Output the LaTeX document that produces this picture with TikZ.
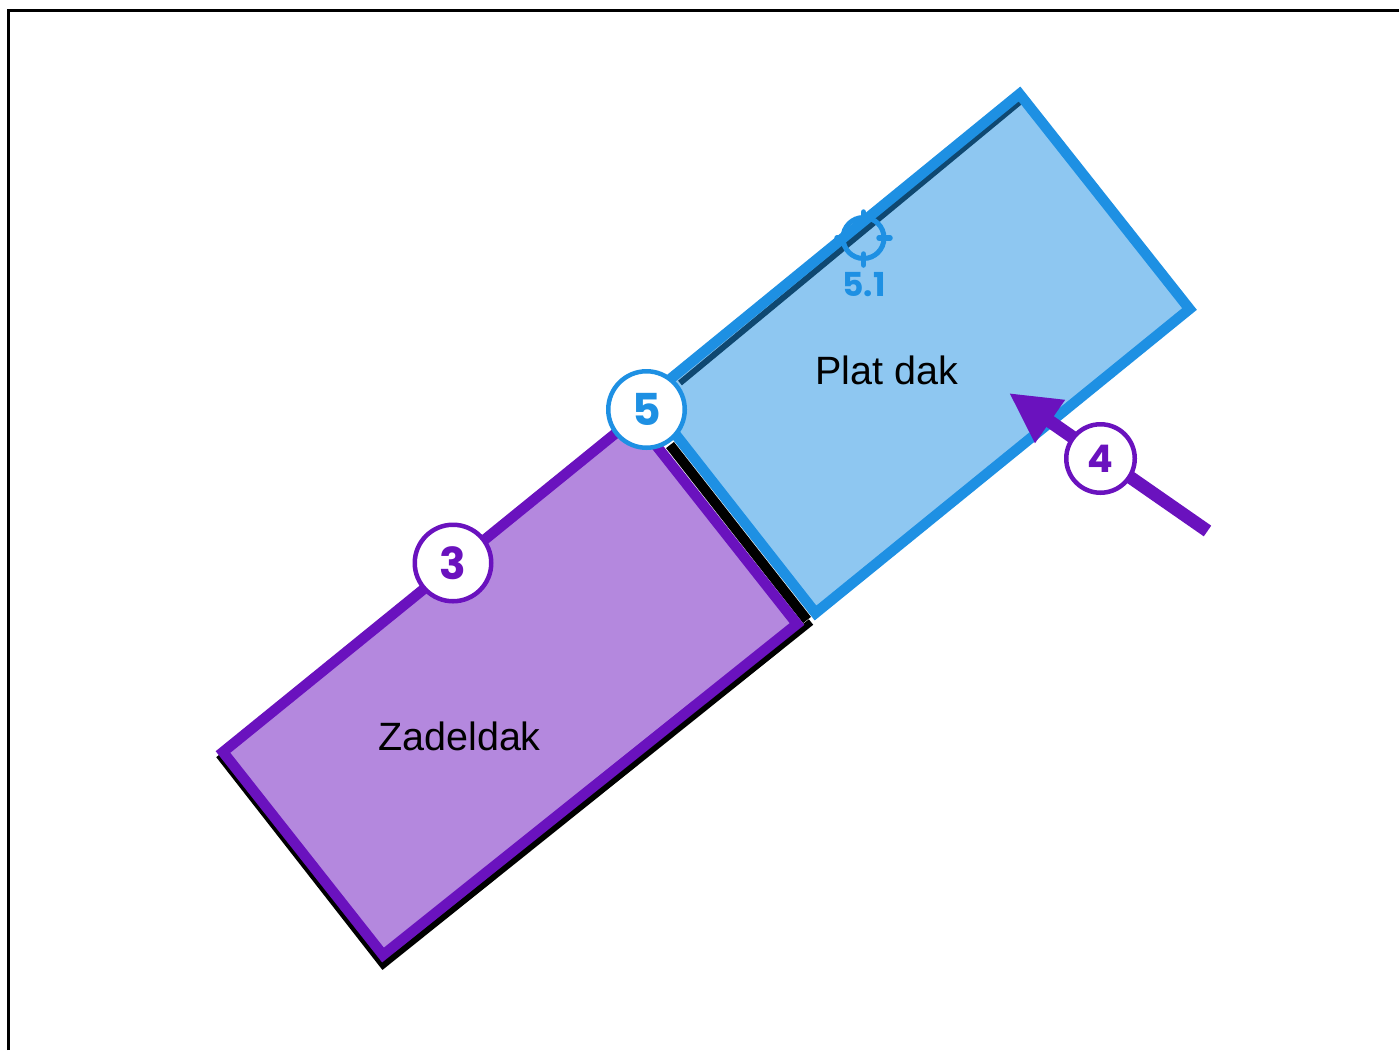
\documentclass[tikz,border=0pt]{standalone}
\usepackage{fontspec}
\setmainfont{Liberation Sans}
\newfontfamily\badgefont[Ligatures=TeX]{Poppins}
\usetikzlibrary{arrows.meta}
\definecolor{roofblue}{HTML}{1E90E3}
\definecolor{roofpurple}{HTML}{6A12BE}
\tikzset{
  x=1pt,y=-1pt,
  framepart/.style={draw=black,line width=3pt,line cap=butt,miter limit=10},
  shadowline/.style={draw=black,line width=7pt,line join=miter},
  roofzone/.style={line width=10.5pt,line join=miter,miter limit=10},
  badge/.style={circle,fill=white,draw=#1,line width=4.5pt,text=#1,minimum size=76.5pt,inner sep=0pt,font=\badgefont\bfseries\fontsize{44}{44}\selectfont},
  roofname/.style={text=black,inner sep=0pt,font=\fontsize{39.5}{40}\selectfont},
  tick/.style={draw=roofblue,line width=5.5pt,line cap=round}
}
\begin{document}
\begin{tikzpicture}
\useasboundingbox (0,0) rectangle (1399,1050);
\draw[framepart] (8.7,1050) -- (8.7,10.8) -- (1399,10.8);
% black shadow lines
\coordinate (s1) at (219,755);
\coordinate (s2) at (383,965);
\coordinate (s3) at (811,622);
\coordinate (s4) at (670,445);
\coordinate (s5) at (1021,101);
\coordinate (s6) at (680,383);
\coordinate (s7) at (807,620);
\draw[shadowline] (s1) -- (s2) -- (s3);
\draw[shadowline,line width=10pt] (s4) -- (s7);
\draw[shadowline,line width=6pt] (s5) -- (s6);
% purple roof
\draw[roofzone,draw=roofpurple,fill=roofpurple,fill opacity=0.5]
  (223,752) -- (383,955) -- (797,624) -- (634.5,418) -- cycle;
% blue roof
\draw[roofzone,draw=roofblue,fill=roofblue,fill opacity=0.5]
  (1019.5,94) -- (1189.5,309) -- (815.5,613) -- (647,398) -- cycle;
% target mark
\coordinate (tc) at (863.5,238);
\draw[draw=roofblue,line width=5pt] (tc) circle (20.5pt);
\draw[tick] (863.5,212) -- (863.5,220);
\draw[tick] (863.5,254) -- (863.5,265);
\draw[tick] (837,238) -- (846,238);
\draw[tick] (879,238) -- (890,238);
\node[text=roofblue,inner sep=0pt,font=\badgefont\bfseries\fontsize{33}{33}\selectfont] (t51) at (864,285) {5.1};
% arrow
\coordinate (atail) at (1207.5,531);
\coordinate (atip) at (1009,393);
\draw[draw=roofpurple,fill=roofpurple,line width=13pt,-{Triangle[length=50pt,width=49pt]}] (atail) -- (atip);
% badges
\node[badge=roofblue] (b5) at (646.5,409.5) {5};
\node[badge=roofpurple] (b3) at (453,563) {3};
\node[badge=roofpurple,minimum size=68.5pt,font=\badgefont\bfseries\fontsize{38}{38}\selectfont] (b4) at (1100.5,458.5) {4};
% names
\node[roofname] (plat) at (887,370) {Plat dak};
\node[roofname] (zadel) at (459.5,736) {Zadeldak};
\end{tikzpicture}
\end{document}
